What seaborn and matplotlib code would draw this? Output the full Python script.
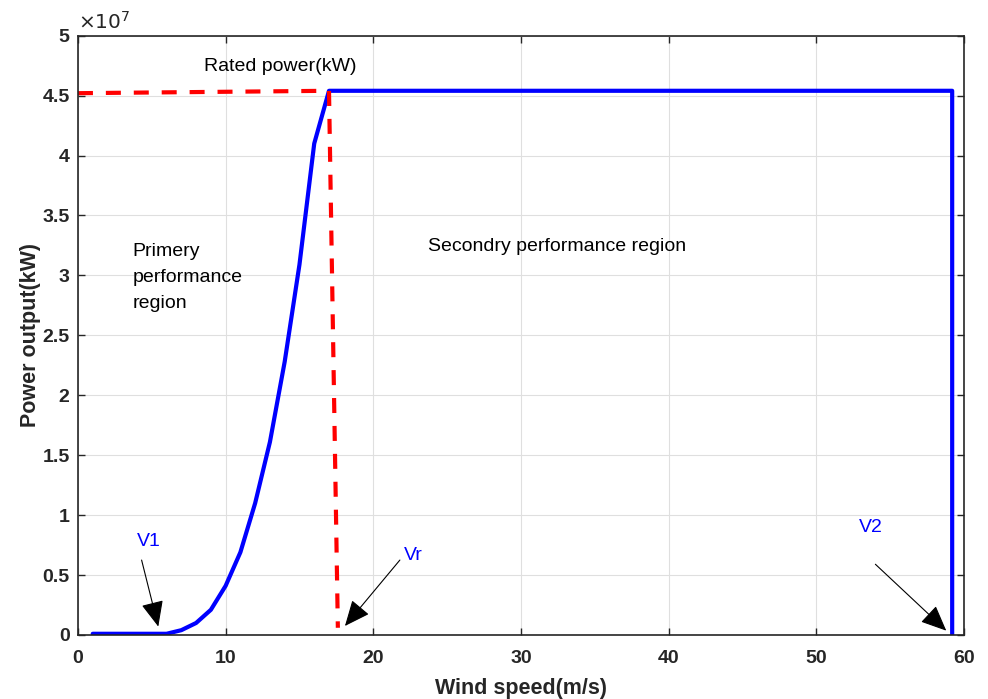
import matplotlib
matplotlib.use("Agg")
import matplotlib.pyplot as plt
import matplotlib.ticker as mticker
import seaborn as sns
import pandas as pd

# ---- data ----
wind_speed = [1, 2, 3, 4, 5, 6, 7, 8, 9, 10, 11, 12, 13, 14, 15, 16, 17, 59.2, 59.2]
power_kw = [0.01e7, 0.01e7, 0.01e7, 0.01e7, 0.01e7, 0.01e7, 0.04e7, 0.10e7, 0.21e7, 0.41e7,
            0.69e7, 1.10e7, 1.61e7, 2.28e7, 3.09e7, 4.10e7, 4.54e7, 4.54e7, 0.0]

rated_x = [0, 17, 17.6]
rated_y = [4.52e7, 4.54e7, 0.06e7]

x_ticks = [0, 10, 20, 30, 40, 50, 60]
y_ticks = [0, 0.5e7, 1e7, 1.5e7, 2e7, 2.5e7, 3e7, 3.5e7, 4e7, 4.5e7, 5e7]

sns.set_theme(style="whitegrid")
plt.rcParams['font.family'] = ['Liberation Sans', 'DejaVu Sans']

fig = plt.figure(figsize=(9.88, 6.99), dpi=100)
ax = fig.add_axes([0.0789, 0.0916, 0.8968, 0.8574])

curve = pd.DataFrame({"v": wind_speed, "p": power_kw})
rated = pd.DataFrame({"v": rated_x, "p": rated_y})

sns.lineplot(data=curve, x="v", y="p", sort=False, estimator=None, color="#0000FF",
             linewidth=3, ax=ax)
sns.lineplot(data=rated, x="v", y="p", sort=False, estimator=None, color="#FF0000",
             linewidth=3, linestyle=(0, (3.6, 3.1)), ax=ax)

ax.set_xlim(0, 60)
ax.set_ylim(0, 5e7)
ax.set_xticks(x_ticks)
ax.set_yticks(y_ticks)
ax.yaxis.set_major_formatter(mticker.FuncFormatter(lambda v, p: "%g" % (v / 1e7)))

ax.set_facecolor("white")
ax.grid(True, color="#DFDFDF", linewidth=0.8)
for s in ax.spines.values():
    s.set_color("#262626")
    s.set_linewidth(1.2)
ax.tick_params(direction="in", length=5, width=1, colors="#262626", labelsize=14,
               top=True, right=True, left=True, bottom=True)
ax.tick_params(axis="x", pad=11)
ax.tick_params(axis="y", pad=6)
for lbl in ax.get_xticklabels() + ax.get_yticklabels():
    lbl.set_fontweight("bold")

ax.set_xlabel("Wind speed(m/s)", fontsize=15.5, fontweight="bold", color="#262626", labelpad=8)
ax.set_ylabel("Power output(kW)", fontsize=15.5, fontweight="bold", color="#262626", labelpad=1)

ax.text(0.0, 1.004, r"$\times10^{7}$", transform=ax.transAxes, fontsize=14.5,
        color="#262626", ha="left", va="bottom")

ax.text(13.7, 4.74e7, "Rated power(kW)", fontsize=14, ha="center", va="center", color="black")
ax.text(3.7, 2.98e7, "Primery\nperformance\nregion", fontsize=14, ha="left", va="center",
        color="black", linespacing=1.7)
ax.text(23.7, 3.24e7, "Secondry performance region", fontsize=14, ha="left", va="center",
        color="black")

ax.text(4.8, 0.78e7, "V1", color="#0000FF", fontsize=14, ha="center", va="center")
ax.text(22.7, 0.66e7, "Vr", color="#0000FF", fontsize=14, ha="center", va="center")
ax.text(53.7, 0.90e7, "V2", color="#0000FF", fontsize=14, ha="center", va="center")

arrow = dict(arrowstyle="-|>,head_length=0.8,head_width=0.35", color="black", lw=0.8,
             mutation_scale=20, shrinkA=0, shrinkB=0)
ax.annotate("", xy=(5.44, 0.07e7), xytext=(4.31, 0.625e7), arrowprops=arrow)
ax.annotate("", xy=(18.08, 0.075e7), xytext=(21.8, 0.625e7), arrowprops=arrow)
ax.annotate("", xy=(58.8, 0.036e7), xytext=(54.0, 0.59e7), arrowprops=arrow)

fig.savefig("out.png", dpi=100)
